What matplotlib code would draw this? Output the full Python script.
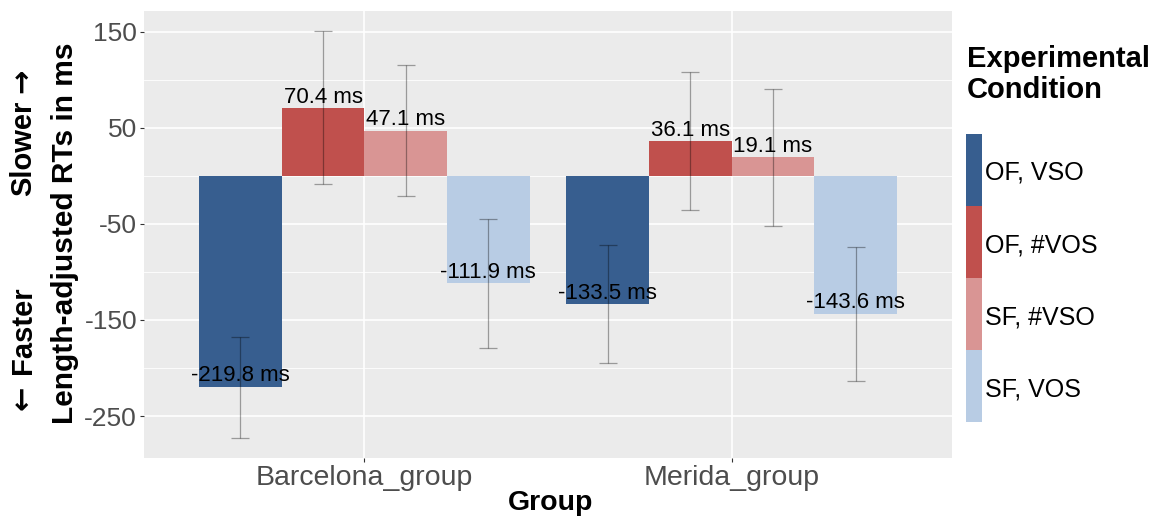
import numpy as np
import matplotlib
matplotlib.use('Agg')
import matplotlib.pyplot as plt
from matplotlib.patches import Rectangle

plt.rcParams['font.family'] = ['Liberation Sans', 'DejaVu Sans']
plt.rcParams['axes.unicode_minus'] = False

groups = ['Barcelona_group', 'Merida_group']
conditions = ['OF, VSO', 'OF, #VOS', 'SF, #VSO', 'SF, VOS']
colors = ['#375E8F', '#C0504D', '#D99594', '#B8CCE4']

# mean per condition, one list per group
barcelona_mean = [-219.8, 70.4, 47.1, -111.9]
merida_mean = [-133.5, 36.1, 19.1, -143.6]
# error bar ends
barcelona_lo = [-272.5, -8.6, -21.1, -179.0]
barcelona_hi = [-168.0, 150.3, 115.3, -45.0]
merida_lo = [-195.3, -36.0, -52.0, -214.0]
merida_hi = [-72.4, 108.4, 90.7, -74.0]

means = np.array([barcelona_mean, merida_mean])
lows = np.array([barcelona_lo, merida_lo])
highs = np.array([barcelona_hi, merida_hi])

W, H = 1156, 519
fig = plt.figure(figsize=(W / 100, H / 100), dpi=100)
ax = fig.add_axes([144 / W, 1 - 458 / H, 808 / W, 447 / H])
ax.set_facecolor('#EBEBEB')
ax.set_axisbelow(True)

bw = 0.9 / len(conditions)
xpos = np.arange(len(groups))
for i, cond in enumerate(conditions):
    xs = xpos + (i - 1.5) * bw
    ax.bar(xs, means[:, i], width=bw, color=colors[i], label=cond, zorder=2)
    yerr = [means[:, i] - lows[:, i], highs[:, i] - means[:, i]]
    ax.errorbar(xs, means[:, i], yerr=yerr, fmt='none', ecolor='black', alpha=0.35,
                elinewidth=0.9, capsize=6.5, capthick=0.9, zorder=3)
    for x, v in zip(xs, means[:, i]):
        ax.annotate(f'{v:.1f} ms', (x, v), xytext=(0, 4), textcoords='offset points',
                    ha='center', va='baseline', fontsize=16, color='black', zorder=4)

lo, hi = lows.min(), highs.max()
pad = 0.05 * (hi - lo)
ax.set_ylim(lo - pad, hi + pad)
ax.set_xlim(-0.6, len(groups) - 0.4)

ax.set_yticks([-250, -150, -50, 50, 150])
ax.set_yticks([-200, -100, 0, 100], minor=True)
ax.set_xticks(xpos)
ax.set_xticklabels(groups)
ax.grid(which='major', color='white', linewidth=1.2)
ax.grid(which='minor', axis='y', color='white', linewidth=0.6)
ax.tick_params(axis='both', which='major', length=3, width=0.8, color='#333333',
               labelcolor='#4D4D4D', pad=2)
ax.tick_params(axis='y', labelsize=19)
ax.tick_params(axis='x', labelsize=20.5)
ax.tick_params(which='minor', length=0)
for s in ax.spines.values():
    s.set_visible(False)

# axis titles
fig.text(551 / W, 1 - 509.5 / H, 'Group', ha='center', va='baseline',
         fontsize=20.5, fontweight='bold')
fig.text(65 / W, 1 - 233 / H, 'Length-adjusted RTs in ms', rotation=90,
         ha='center', va='center', fontsize=21.5, fontweight='bold')
fig.text(23 / W, 1 - 330 / H, 'Faster', rotation=90, ha='center', va='center',
         fontsize=21, fontweight='bold')
fig.text(23 / W, 1 - 398 / H, '\u2190', rotation=90, ha='center', va='center',
         fontsize=21, fontweight='bold', family='DejaVu Sans')
fig.text(23 / W, 1 - 148 / H, 'Slower', rotation=90, ha='center', va='center',
         fontsize=21, fontweight='bold')
fig.text(23 / W, 1 - 81 / H, '\u2192', rotation=90, ha='center', va='center',
         fontsize=21, fontweight='bold', family='DejaVu Sans')

# legend
fig.text(967 / W, 1 - 67 / H, 'Experimental', ha='left', va='baseline',
         fontsize=21, fontweight='bold')
fig.text(967 / W, 1 - 98 / H, 'Condition', ha='left', va='baseline',
         fontsize=21, fontweight='bold')
key_top, key_h = 134, 72
for i, (c, l) in enumerate(zip(colors, conditions)):
    top = key_top + i * key_h
    fig.add_artist(Rectangle((966 / W, 1 - (top + key_h) / H), 16 / W, key_h / H,
                             transform=fig.transFigure, facecolor=c, edgecolor='none'))
    fig.text(985 / W, 1 - (top + key_h / 2 + 3) / H, l, ha='left', va='center',
             fontsize=18)

fig.savefig('out.png', dpi=100, facecolor='white')
